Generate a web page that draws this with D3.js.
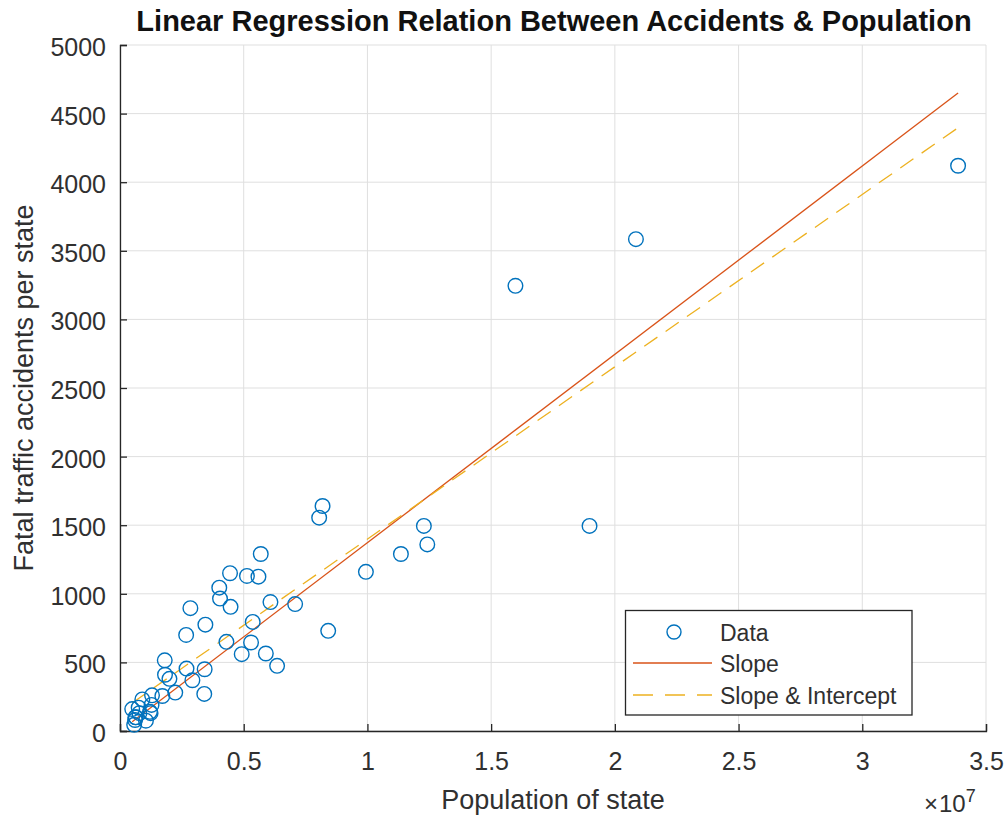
<!DOCTYPE html>
<html>
<head>
<meta charset="utf-8">
<script src="https://cdn.jsdelivr.net/npm/d3@7"></script>
<style>
  html, body { margin: 0; padding: 0; background: #ffffff; }
  svg { display: block; font-family: "Liberation Sans", Arial, Helvetica, sans-serif; }
</style>
</head>
<body>
<svg id="chart" width="1008" height="819"></svg>
<script>
// ---- data ----
const states = ["Alabama","Alaska","Arizona","Arkansas","California","Colorado","Connecticut","Delaware",
  "District of Columbia","Florida","Georgia","Hawaii","Idaho","Illinois","Indiana","Iowa","Kansas",
  "Kentucky","Louisiana","Maine","Maryland","Massachusetts","Michigan","Minnesota","Mississippi",
  "Missouri","Montana","Nebraska","Nevada","New Hampshire","New Jersey","New Mexico","New York",
  "North Carolina","North Dakota","Ohio","Oklahoma","Oregon","Pennsylvania","Rhode Island",
  "South Carolina","South Dakota","Tennessee","Texas","Utah","Vermont","Virginia","Washington",
  "West Virginia","Wisconsin","Wyoming"];
const population = [4447100, 626932, 5130632, 2673400, 33871648, 4301261, 3405565, 783600,
  572059, 15982378, 8186453, 1211537, 1293953, 12419293, 6080485, 2926324, 2688418,
  4041769, 4468976, 1274923, 5296486, 6349097, 9938444, 4919479, 2844658,
  5595211, 902195, 1711263, 1998257, 1235786, 8414350, 1819046, 18976457,
  8049313, 642200, 11353140, 3450654, 3421399, 12281054, 1048319,
  4012012, 754844, 5689283, 20851820, 2233169, 608827, 7078515, 5894121,
  1808344, 5363675, 493782];
const fatalAccidents = [1150, 100, 1130, 700, 4120, 650, 270, 130,
  45, 3245, 1640, 140, 260, 1360, 940, 370, 455,
  965, 905, 190, 645, 475, 1160, 560, 895,
  1125, 230, 255, 380, 130, 730, 410, 1495,
  1555, 100, 1290, 775, 450, 1495, 75,
  1045, 170, 1290, 3585, 280, 80, 925, 565,
  515, 795, 160];

// regression coefficients
const slopeOnly = 1.3727e-4;            // y = b1 * x
const fitIntercept = 142.71;            // y = b0 + b1 * x
const fitSlope = 1.2560e-4;

const xTicks = [0, 0.5e7, 1e7, 1.5e7, 2e7, 2.5e7, 3e7, 3.5e7];
const xTickLabels = ["0", "0.5", "1", "1.5", "2", "2.5", "3", "3.5"];
const yTicks = [0, 500, 1000, 1500, 2000, 2500, 3000, 3500, 4000, 4500, 5000];

const titleText = "Linear Regression Relation Between Accidents & Population";
const xLabelText = "Population of state";
const yLabelText = "Fatal traffic accidents per state";
const legendLabels = ["Data", "Slope", "Slope & Intercept"];

// ---- layout ----
const colData = "#0072BD", colSlope = "#D95319", colInt = "#EDB120";
const axisCol = "#262626", textCol = "#303030", gridCol = "#dfdfdf";
const L = 120, R = 986, T = 45, B = 731;

const svg = d3.select("#chart");
const x = d3.scaleLinear().domain([0, 3.5e7]).range([L, R]);
const y = d3.scaleLinear().domain([0, 5000]).range([B, T]);

// grid
const g = svg.append("g");
g.selectAll("line.vg").data(xTicks).enter().append("line")
  .attr("x1", d => x(d)).attr("x2", d => x(d)).attr("y1", T).attr("y2", B)
  .attr("stroke", gridCol).attr("stroke-width", 1);
g.selectAll("line.hg").data(yTicks).enter().append("line")
  .attr("x1", L).attr("x2", R).attr("y1", d => y(d)).attr("y2", d => y(d))
  .attr("stroke", gridCol).attr("stroke-width", 1);

// axes
const xAxis = d3.axisBottom(x).tickValues(xTicks).tickSize(-7).tickPadding(0)
  .tickFormat((d, i) => xTickLabels[i]);
const xg = svg.append("g").attr("transform", `translate(0,${B})`).call(xAxis);
xg.select(".domain").attr("stroke", axisCol).attr("stroke-width", 1.3);
xg.selectAll(".tick line").attr("stroke", axisCol).attr("stroke-width", 1.3);
xg.selectAll(".tick text").attr("fill", textCol).attr("font-size", 25)
  .attr("font-family", "Liberation Sans, Arial, sans-serif")
  .attr("dy", null).attr("y", 39);

const yAxis = d3.axisLeft(y).tickValues(yTicks).tickSize(-7).tickPadding(0)
  .tickFormat(d3.format("d"));
const yg = svg.append("g").attr("transform", `translate(${L},0)`).call(yAxis);
yg.select(".domain").attr("stroke", axisCol).attr("stroke-width", 1.3);
yg.selectAll(".tick line").attr("stroke", axisCol).attr("stroke-width", 1.3);
yg.selectAll(".tick text").attr("fill", textCol).attr("font-size", 25)
  .attr("font-family", "Liberation Sans, Arial, sans-serif")
  .attr("x", -14).attr("dy", "0.42em");

// regression lines
const xMin = d3.min(population), xMax = d3.max(population);
svg.append("line")
  .attr("x1", x(xMin)).attr("y1", y(slopeOnly * xMin))
  .attr("x2", x(xMax)).attr("y2", y(slopeOnly * xMax))
  .attr("stroke", colSlope).attr("stroke-width", 1.3);
svg.append("line")
  .attr("x1", x(xMin)).attr("y1", y(fitIntercept + fitSlope * xMin))
  .attr("x2", x(xMax)).attr("y2", y(fitIntercept + fitSlope * xMax))
  .attr("stroke", colInt).attr("stroke-width", 1.3).attr("stroke-dasharray", "16,10");

// data points
svg.append("g").selectAll("circle").data(d3.range(population.length)).enter().append("circle")
  .attr("cx", i => x(population[i])).attr("cy", i => y(fatalAccidents[i]))
  .attr("r", 7.3).attr("fill", "none").attr("stroke", colData).attr("stroke-width", 1.4);

// title & labels
svg.append("text").attr("x", (L + R) / 2 + 1).attr("y", 31).attr("text-anchor", "middle")
  .attr("font-size", 29).attr("font-weight", "bold").attr("fill", "#111").text(titleText);
svg.append("text").attr("x", (L + R) / 2).attr("y", 809).attr("text-anchor", "middle")
  .attr("font-size", 27).attr("fill", textCol).text(xLabelText);
svg.append("text").attr("transform", `translate(33,${(T + B) / 2}) rotate(-90)`)
  .attr("text-anchor", "middle").attr("font-size", 27).attr("fill", textCol).text(yLabelText);

// exponent
const ex = svg.append("text").attr("x", 924).attr("y", 812).attr("fill", textCol).attr("font-size", 24);
ex.append("tspan").text("\u00d7");
ex.append("tspan").attr("dx", 1).text("10");
ex.append("tspan").attr("dy", -10).attr("font-size", 18).text("7");

// legend
const lg = svg.append("g");
lg.append("rect").attr("x", 625.5).attr("y", 610.5).attr("width", 286.5).attr("height", 104.5)
  .attr("fill", "#fff").attr("stroke", axisCol).attr("stroke-width", 1.3);
const rows = [632, 663, 695];
lg.append("circle").attr("cx", 674).attr("cy", rows[0]).attr("r", 7)
  .attr("fill", "none").attr("stroke", colData).attr("stroke-width", 1.4);
lg.append("line").attr("x1", 633).attr("x2", 712).attr("y1", rows[1]).attr("y2", rows[1])
  .attr("stroke", colSlope).attr("stroke-width", 1.3);
lg.append("line").attr("x1", 633).attr("x2", 712).attr("y1", rows[2]).attr("y2", rows[2])
  .attr("stroke", colInt).attr("stroke-width", 1.3).attr("stroke-dasharray", "20,12");
lg.selectAll("text.lt").data(legendLabels).enter().append("text")
  .attr("x", 720).attr("y", (d, i) => rows[i] + 8.5)
  .attr("font-size", 23).attr("fill", textCol).text(d => d);
</script>
</body>
</html>
